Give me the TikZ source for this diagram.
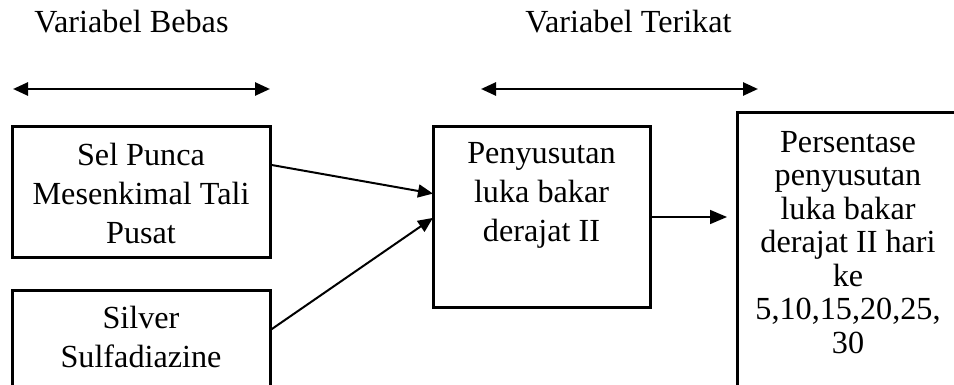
\documentclass[tikz,border=0pt]{standalone}
\usepackage{fontspec}
\setmainfont{Liberation Serif}
\usetikzlibrary{arrows.meta,calc}
\begin{document}
\begin{tikzpicture}[x=0.5pt,y=-0.5pt,
  box/.style={draw,line width=1.5pt,inner sep=0pt,outer sep=0pt,rectangle},
  lbl/.style={font=\fontsize{16.1}{19.5}\selectfont,align=center,anchor=base,inner sep=0pt},
  arr/.style={line width=1pt,-{Triangle[length=7.5pt,width=6.5pt]}},
  arrb/.style={line width=0.8pt,-{Triangle[length=8.5pt,width=7pt]}},
  darr/.style={line width=1.3pt,{Triangle[length=7.5pt,width=6.5pt]}-{Triangle[length=7.5pt,width=6.5pt]}}]
\useasboundingbox (0,0) rectangle (954,385);
\clip (0,0) rectangle (954,385);
% headers
\node[lbl] (h1) at (131.5,33) {Variabel Bebas};
\node[lbl] (h2) at (628.5,33) {Variabel Terikat};
% double arrows
\coordinate (a1l) at (13,89);
\coordinate (a1r) at (270,89);
\coordinate (a2l) at (481,89);
\coordinate (a2r) at (758,89);
\draw[darr] (a1l) -- (a1r);
\draw[darr] (a2l) -- (a2r);
% boxes
\node[box,minimum width=129pt,minimum height=65pt] (b1) at (141,192) {};
\node[box,minimum width=129pt,minimum height=65pt] (b2) at (141,355) {};
\node[box,minimum width=108.5pt,minimum height=90pt] (b3) at (541.5,217) {};
\node[box,minimum width=110pt,minimum height=150pt] (b4) at (847,263) {};
% texts (base = baseline of the last line)
\node[lbl] (t1) at (141,243) {Sel Punca\\Mesenkimal Tali\\Pusat};
\node[lbl] (t2) at (141,367) {Silver\\Sulfadiazine};
\node[lbl] (t3) at (541.5,242) {Penyusutan\\luka bakar\\derajat II};
\node[lbl,font=\fontsize{16.1}{16.75}\selectfont] (t4) at (848,353) {Persentase\\penyusutan\\luka bakar\\derajat II hari\\ke\\5,10,15,20,25,\\30};
% connectors
\draw[arr] ($(b1.north east)!0.29!(b1.south east)$) -- ($(b3.north west)!0.37!(b3.south west)$);
\draw[arr] ($(b2.north east)!0.31!(b2.south east)$) -- ($(b3.north west)!0.505!(b3.south west)$);
\coordinate (c4) at ([xshift=-5pt]b4.west |- b3.east);
\draw[arrb] (b3.east) -- (c4);
\end{tikzpicture}
\end{document}
